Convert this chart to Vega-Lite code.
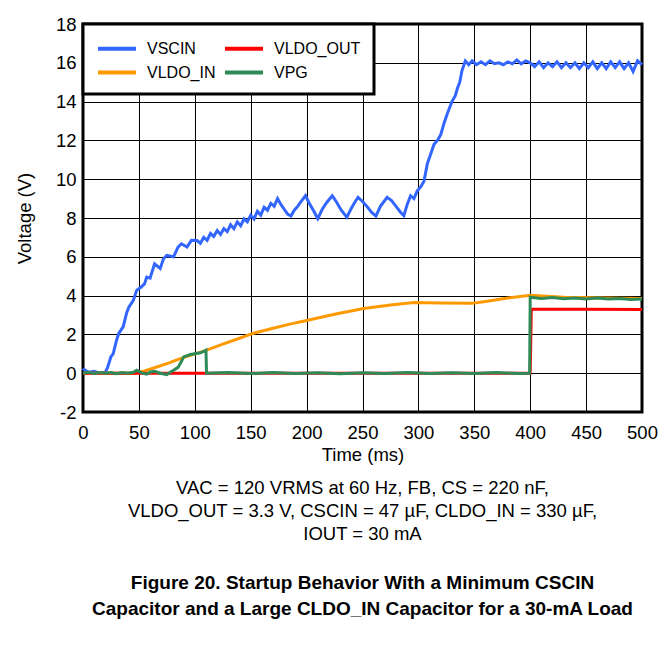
{
  "$schema": "https://vega.github.io/schema/vega-lite/v6.json",
  "width": 559,
  "height": 388,
  "autosize": {"type": "none"},
  "padding": {"left": 83, "top": 24, "right": 21, "bottom": 252},
  "background": "white",
  "config": {
    "font": "Liberation Sans",
    "view": {"stroke": "black", "strokeWidth": 3},
    "axis": {
      "grid": true,
      "gridColor": "black",
      "gridWidth": 1,
      "gridOpacity": 1,
      "domain": false,
      "ticks": false,
      "labelFlush": false,
      "labelFont": "Liberation Sans",
      "labelFontSize": 18.5,
      "labelColor": "black",
      "titleFont": "Liberation Sans",
      "titleFontSize": 18.5,
      "titleFontWeight": "normal",
      "titleColor": "black"
    },
    "legend": {
      "strokeColor": "black",
      "strokeWidth": 3,
      "fillColor": "white"
    }
  },
  "title": {
    "text": [
      "VAC = 120 VRMS at 60 Hz, FB, CS = 220 nF,",
      "VLDO_OUT = 3.3 V, CSCIN = 47 µF, CLDO_IN = 330 µF,",
      "IOUT = 30 mA"
    ],
    "subtitle": [
      "Figure 20. Startup Behavior With a Minimum CSCIN",
      "Capacitor and a Large CLDO_IN Capacitor for a 30-mA Load"
    ],
    "orient": "bottom",
    "anchor": "middle",
    "font": "Liberation Sans",
    "fontSize": 18.5,
    "fontWeight": "normal",
    "color": "black",
    "lineHeight": 23,
    "offset": 15,
    "subtitleFont": "Liberation Sans",
    "subtitleFontSize": 19,
    "subtitleFontWeight": "bold",
    "subtitleColor": "black",
    "subtitleLineHeight": 26,
    "subtitlePadding": 30
  },
  "datasets": {
    "scin": [
      {"t": 0, "v": 0.25}, {"t": 2, "v": 0.15}, {"t": 5, "v": 0.05}, {"t": 10, "v": 0.1},
      {"t": 15, "v": 0.0}, {"t": 20, "v": 0.05}, {"t": 22, "v": 0.3}, {"t": 25, "v": 0.85},
      {"t": 27, "v": 1.0}, {"t": 30, "v": 1.7}, {"t": 32, "v": 2.05}, {"t": 36, "v": 2.4},
      {"t": 39, "v": 3.1}, {"t": 41, "v": 3.4}, {"t": 45, "v": 3.75}, {"t": 48, "v": 4.27},
      {"t": 52, "v": 4.44}, {"t": 55, "v": 4.6}, {"t": 57, "v": 4.95}, {"t": 60, "v": 4.9},
      {"t": 64, "v": 5.64}, {"t": 69, "v": 5.4}, {"t": 72, "v": 5.9}, {"t": 75, "v": 6.07},
      {"t": 81, "v": 6.0}, {"t": 85, "v": 6.5}, {"t": 88, "v": 6.67}, {"t": 93, "v": 6.5},
      {"t": 97, "v": 6.85}, {"t": 102, "v": 6.84}, {"t": 105, "v": 6.7}, {"t": 108, "v": 7.0},
      {"t": 111, "v": 6.85}, {"t": 114, "v": 7.2}, {"t": 117, "v": 7.05}, {"t": 120, "v": 7.35},
      {"t": 123, "v": 7.15}, {"t": 126, "v": 7.45}, {"t": 129, "v": 7.3}, {"t": 132, "v": 7.65},
      {"t": 135, "v": 7.45}, {"t": 138, "v": 7.8}, {"t": 141, "v": 7.6}, {"t": 144, "v": 7.95},
      {"t": 147, "v": 7.8}, {"t": 150, "v": 8.15}, {"t": 153, "v": 7.95}, {"t": 156, "v": 8.35},
      {"t": 159, "v": 8.15}, {"t": 162, "v": 8.55}, {"t": 165, "v": 8.4}, {"t": 168, "v": 8.75},
      {"t": 171, "v": 8.6}, {"t": 174, "v": 9.0}, {"t": 177, "v": 8.7}, {"t": 180, "v": 8.45},
      {"t": 183, "v": 8.2}, {"t": 186, "v": 8.1}, {"t": 189, "v": 8.4}, {"t": 192, "v": 8.6},
      {"t": 195, "v": 8.85}, {"t": 199, "v": 9.15}, {"t": 202, "v": 8.8}, {"t": 206, "v": 8.4},
      {"t": 210, "v": 7.97}, {"t": 214, "v": 8.45}, {"t": 218, "v": 8.8}, {"t": 223, "v": 9.15},
      {"t": 227, "v": 8.8}, {"t": 231, "v": 8.4}, {"t": 236, "v": 8.04}, {"t": 240, "v": 8.5},
      {"t": 243, "v": 8.8}, {"t": 246, "v": 9.07}, {"t": 250, "v": 8.85}, {"t": 254, "v": 8.6},
      {"t": 258, "v": 8.3}, {"t": 262, "v": 8.1}, {"t": 266, "v": 8.6}, {"t": 272, "v": 9.07},
      {"t": 276, "v": 8.9}, {"t": 280, "v": 8.6}, {"t": 284, "v": 8.3}, {"t": 287, "v": 8.12},
      {"t": 290, "v": 8.7}, {"t": 293, "v": 9.15}, {"t": 296, "v": 9.0}, {"t": 299, "v": 9.4},
      {"t": 302, "v": 9.6}, {"t": 305, "v": 9.9}, {"t": 308, "v": 10.8}, {"t": 311, "v": 11.3},
      {"t": 314, "v": 11.8}, {"t": 317, "v": 12.0}, {"t": 320, "v": 12.3}, {"t": 323, "v": 12.9},
      {"t": 326, "v": 13.4}, {"t": 330, "v": 14.0}, {"t": 333, "v": 14.3}, {"t": 335, "v": 14.7},
      {"t": 337, "v": 15.0}, {"t": 339, "v": 15.6}, {"t": 342, "v": 16.1}, {"t": 345, "v": 15.9},
      {"t": 348, "v": 16.1}, {"t": 352, "v": 15.9}, {"t": 356, "v": 16.05}, {"t": 360, "v": 15.9},
      {"t": 364, "v": 16.1}, {"t": 368, "v": 15.95}, {"t": 372, "v": 16.0}, {"t": 376, "v": 15.9},
      {"t": 380, "v": 16.05}, {"t": 384, "v": 15.95}, {"t": 388, "v": 16.15}, {"t": 392, "v": 15.95},
      {"t": 396, "v": 16.1}, {"t": 400, "v": 16.0}, {"t": 404, "v": 15.8}, {"t": 408, "v": 16.05},
      {"t": 412, "v": 15.75}, {"t": 416, "v": 16.0}, {"t": 420, "v": 15.8}, {"t": 424, "v": 16.05},
      {"t": 428, "v": 15.75}, {"t": 432, "v": 16.0}, {"t": 436, "v": 15.75}, {"t": 440, "v": 16.0},
      {"t": 444, "v": 15.7}, {"t": 448, "v": 16.0}, {"t": 452, "v": 15.75}, {"t": 456, "v": 16.05},
      {"t": 460, "v": 15.7}, {"t": 464, "v": 16.0}, {"t": 468, "v": 15.7}, {"t": 472, "v": 16.05},
      {"t": 476, "v": 15.75}, {"t": 480, "v": 16.05}, {"t": 484, "v": 15.7}, {"t": 488, "v": 16.0},
      {"t": 492, "v": 15.55}, {"t": 496, "v": 16.1}, {"t": 500, "v": 15.9}
    ],
    "ldoin": [
      {"t": 0, "v": 0.0}, {"t": 45, "v": 0.0}, {"t": 55, "v": 0.12}, {"t": 66, "v": 0.32},
      {"t": 77, "v": 0.53}, {"t": 87, "v": 0.75}, {"t": 99, "v": 0.97}, {"t": 110, "v": 1.18},
      {"t": 125, "v": 1.5}, {"t": 140, "v": 1.8}, {"t": 152, "v": 2.05}, {"t": 170, "v": 2.32},
      {"t": 185, "v": 2.53}, {"t": 200, "v": 2.72}, {"t": 225, "v": 3.04}, {"t": 251, "v": 3.33},
      {"t": 275, "v": 3.52}, {"t": 296, "v": 3.65}, {"t": 320, "v": 3.62}, {"t": 348, "v": 3.6},
      {"t": 360, "v": 3.7}, {"t": 380, "v": 3.88}, {"t": 400, "v": 4.02}, {"t": 430, "v": 3.92},
      {"t": 470, "v": 3.88}, {"t": 500, "v": 3.85}
    ],
    "ldoout": [
      {"t": 0, "v": 0.0}, {"t": 400, "v": 0.0}, {"t": 401, "v": 3.3}, {"t": 450, "v": 3.3},
      {"t": 500, "v": 3.28}
    ],
    "pg": [
      {"t": 0, "v": 0.0}, {"t": 5, "v": 0.05}, {"t": 10, "v": -0.02}, {"t": 15, "v": 0.03},
      {"t": 20, "v": 0.0}, {"t": 25, "v": 0.03}, {"t": 30, "v": -0.03}, {"t": 35, "v": 0.04},
      {"t": 40, "v": 0.0}, {"t": 45, "v": 0.05}, {"t": 48, "v": 0.15}, {"t": 53, "v": 0.0},
      {"t": 57, "v": -0.05}, {"t": 61, "v": 0.08}, {"t": 64, "v": 0.1}, {"t": 69, "v": 0.0},
      {"t": 75, "v": -0.07}, {"t": 78, "v": 0.05}, {"t": 81, "v": 0.15}, {"t": 85, "v": 0.3},
      {"t": 88, "v": 0.6}, {"t": 90, "v": 0.84}, {"t": 96, "v": 0.96}, {"t": 100, "v": 1.0},
      {"t": 105, "v": 1.05}, {"t": 109, "v": 1.15}, {"t": 110, "v": 1.18}, {"t": 110.5, "v": 0.0},
      {"t": 130, "v": 0.03}, {"t": 150, "v": -0.02}, {"t": 170, "v": 0.03}, {"t": 190, "v": -0.02},
      {"t": 210, "v": 0.02}, {"t": 230, "v": -0.03}, {"t": 250, "v": 0.02}, {"t": 270, "v": -0.02},
      {"t": 290, "v": 0.03}, {"t": 310, "v": -0.02}, {"t": 330, "v": 0.02}, {"t": 350, "v": -0.02},
      {"t": 370, "v": 0.03}, {"t": 390, "v": -0.02}, {"t": 399.5, "v": 0.0}, {"t": 400, "v": 3.92},
      {"t": 410, "v": 3.85}, {"t": 420, "v": 3.9}, {"t": 430, "v": 3.84}, {"t": 440, "v": 3.88},
      {"t": 450, "v": 3.83}, {"t": 460, "v": 3.87}, {"t": 470, "v": 3.82}, {"t": 480, "v": 3.85},
      {"t": 490, "v": 3.8}, {"t": 500, "v": 3.83}
    ]
  },
  "encoding": {
    "x": {
      "field": "t",
      "type": "quantitative",
      "title": "Time (ms)",
      "scale": {"domain": [0, 500], "nice": false},
      "axis": {
        "values": [0, 50, 100, 150, 200, 250, 300, 350, 400, 450, 500],
        "labelPadding": 11,
        "titlePadding": 4
      }
    },
    "y": {
      "field": "v",
      "type": "quantitative",
      "title": "Voltage (V)",
      "scale": {"domain": [-2, 18], "nice": false},
      "axis": {
        "values": [-2, 0, 2, 4, 6, 8, 10, 12, 14, 16, 18],
        "labelExpr": "replace(datum.label, '−', '-')",
        "labelPadding": 7,
        "titlePadding": 21
      }
    },
    "color": {
      "field": "s",
      "type": "nominal",
      "scale": {
        "domain": ["VSCIN", "VLDO_IN", "VLDO_OUT", "VPG"],
        "range": ["#3366ff", "#ff9900", "#ff0000", "#2e8b57"]
      },
      "legend": {
        "title": null,
        "orient": "top-left",
        "offset": 0,
        "columns": 2,
        "columnPadding": 1,
        "rowPadding": 4,
        "padding": 13,
        "symbolType": "M-1,0H3",
        "symbolSize": 361,
        "symbolStrokeWidth": 4,
        "labelOffset": 28,
        "labelFont": "Liberation Sans",
        "labelFontSize": 16,
        "labelColor": "black"
      }
    }
  },
  "layer": [
    {
      "data": {"name": "scin"},
      "transform": [{"calculate": "'VSCIN'", "as": "s"}],
      "mark": {"type": "line", "strokeWidth": 3}
    },
    {
      "data": {"name": "ldoin"},
      "transform": [{"calculate": "'VLDO_IN'", "as": "s"}],
      "mark": {"type": "line", "strokeWidth": 3}
    },
    {
      "data": {"name": "ldoout"},
      "transform": [{"calculate": "'VLDO_OUT'", "as": "s"}],
      "mark": {"type": "line", "strokeWidth": 3}
    },
    {
      "data": {"name": "pg"},
      "transform": [{"calculate": "'VPG'", "as": "s"}],
      "mark": {"type": "line", "strokeWidth": 3}
    }
  ]
}
